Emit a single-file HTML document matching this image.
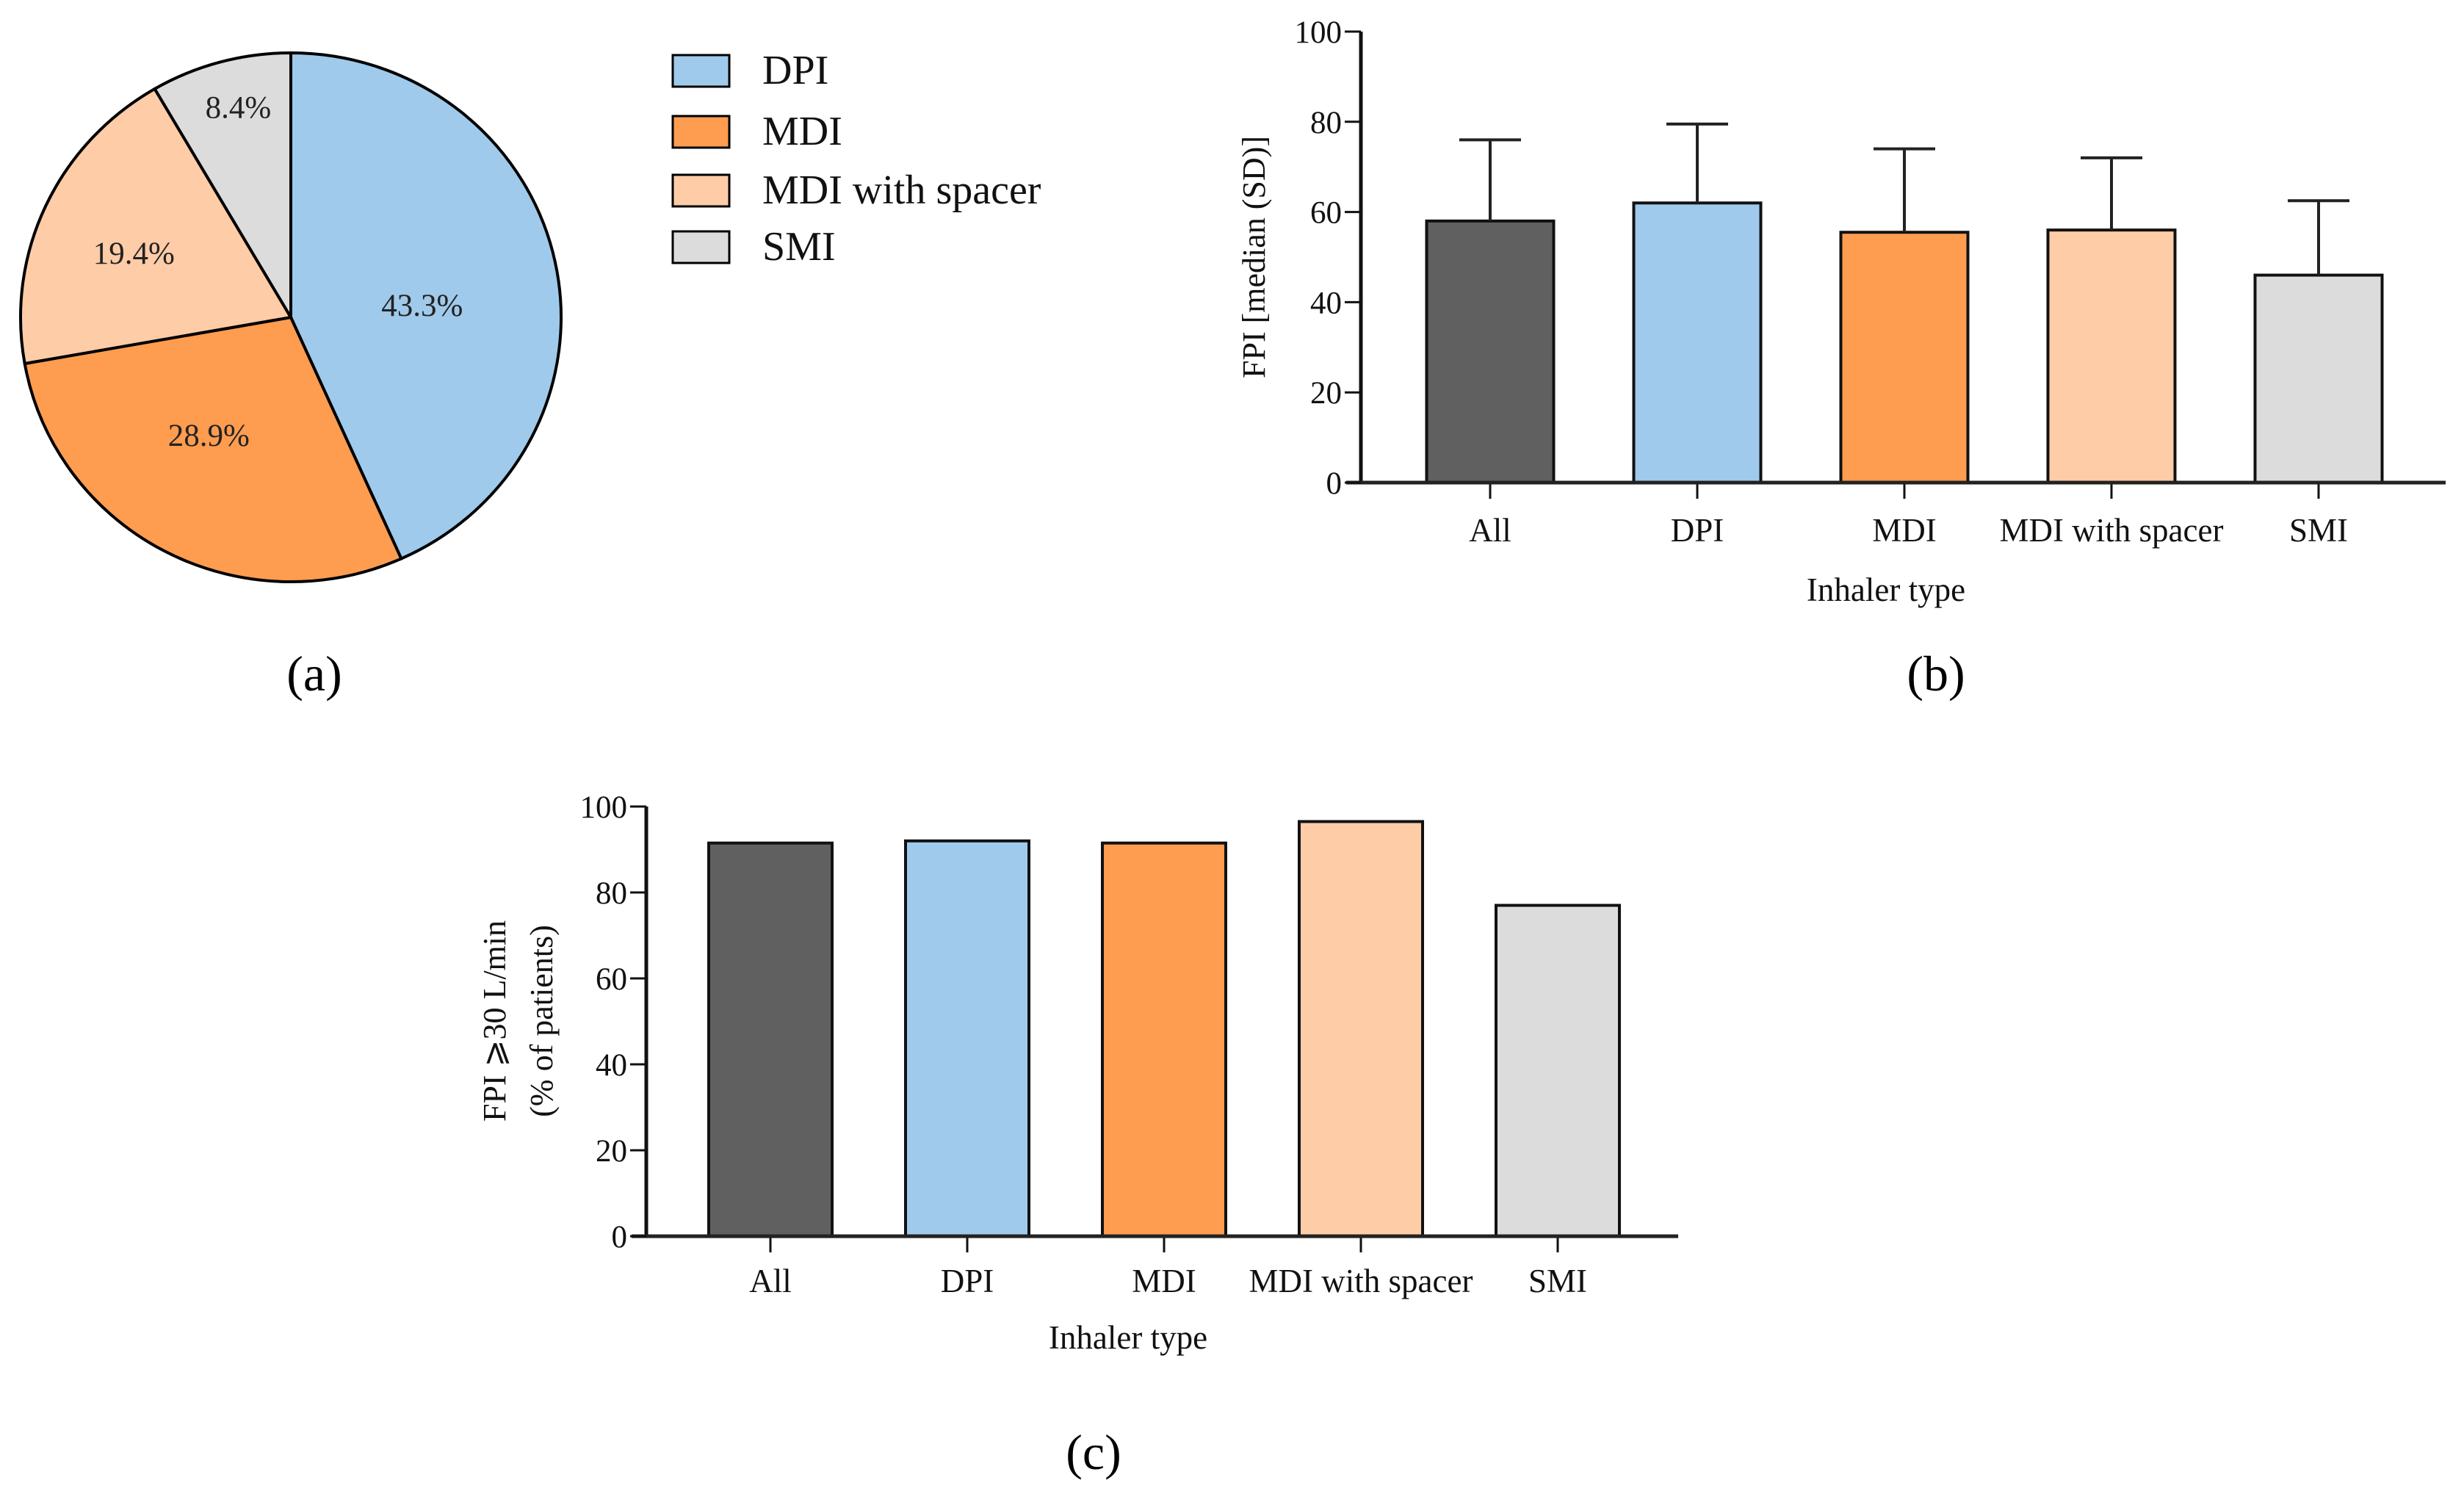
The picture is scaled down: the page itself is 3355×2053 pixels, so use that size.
<!DOCTYPE html>
<html><head><meta charset="utf-8"><style>
html,body{margin:0;padding:0;background:#fff;}
svg{display:block;font-family:"Liberation Serif",serif;}
</style></head><body>
<svg id="fig" width="3355" height="2053" viewBox="0 0 3355 2053" xmlns="http://www.w3.org/2000/svg"></svg>
<script>
const pieLabels = ["DPI","MDI","MDI with spacer","SMI"];
const pieValues = [43.3,28.9,19.4,8.4];
const pieText = ["43.3%","28.9%","19.4%","8.4%"];
const colors = ["#9fcaeb","#fe9c50","#fecca6","#dcdcdc"];
const barCats = ["All","DPI","MDI","MDI with spacer","SMI"];
const medianVals = [58,62,55.5,56,46];
const sdTop = [76,79.5,74,72,62.5];
const pctVals = [91.5,92,91.5,96.5,77];
const yTicks = [0,20,40,60,80,100];
const barColors = ["#606060","#9fcaeb","#fe9c50","#fecca6","#dcdcdc"];

const NS="http://www.w3.org/2000/svg";
const svg=document.getElementById('fig');
function mk(tag,attrs,parent){const e=document.createElementNS(NS,tag);for(const k in attrs)e.setAttribute(k,attrs[k]);(parent||svg).appendChild(e);return e;}
function txt(s,attrs,parent){const e=mk('text',attrs,parent);e.textContent=s;return e;}

// ---- Pie (a)
const pg=mk('g',{});


const cx=396,cy=432,rx=368,ry=360;
const total=pieValues.reduce((a,b)=>a+b,0);
let acc=0;
const labelR=[0.53,0.55,0.64,0.85];
const labelDX=[-12,-17,0,10];
const labelDY=[24,-14,10,10];
pieValues.forEach((v,i)=>{
  const a0=acc/total*2*Math.PI; acc+=v; const a1=acc/total*2*Math.PI;
  const x0=cx+rx*Math.sin(a0),y0=cy-ry*Math.cos(a0),x1=cx+rx*Math.sin(a1),y1=cy-ry*Math.cos(a1);
  const large=(a1-a0)>Math.PI?1:0;
  const p=mk('path',{d:`M${cx},${cy} L${x0},${y0} A${rx},${ry} 0 ${large} 1 ${x1},${y1} Z`,fill:colors[i],stroke:'#000','stroke-width':4},pg);
  
  
  const am=(a0+a1)/2;
  const t=txt(pieText[i],{x:cx+rx*labelR[i]*Math.sin(am)+labelDX[i],y:cy-ry*labelR[i]*Math.cos(am)+14+labelDY[i],'font-size':43,'text-anchor':'middle',fill:'#222'},pg);
  
  
});
// legend
pieLabels.forEach((l,i)=>{
  const y=[75,158,238,315][i];
  const r=mk('rect',{x:916,y:y,width:77,height:43,fill:colors[i],stroke:'#000','stroke-width':3});
  
  
  const t=txt(l,{x:1038,y:y+39,'font-size':56,fill:'#111'});
  
  
});
const la=txt('(a)',{x:428,y:940,'font-size':68,'text-anchor':'middle'});



// ---- Bar chart helper
function barChart(o){
  const g=mk('g',{});
  
  
  const ys=v=>o.y0-(o.y0-o.y100)*v/100;
  const xc=i=>o.x1+i*o.step;
  o.vals.forEach((v,i)=>{
    const r=mk('rect',{x:xc(i)-o.bw/2,y:ys(v),width:o.bw,height:ys(0)-ys(v),fill:barColors[i],stroke:'#111','stroke-width':4},g);
    
    
    if(o.err){
      const e=mk('path',{d:`M${xc(i)},${ys(v)} V${ys(o.err[i])} M${xc(i)-42},${ys(o.err[i])} H${xc(i)+42}`,stroke:'#222','stroke-width':4,fill:'none'},g);
      
      
    }
    const tk=mk('line',{x1:xc(i),y1:ys(0),x2:xc(i),y2:ys(0)+o.tick,stroke:'#111','stroke-width':3},g);
    
    
    const t=txt(barCats[i],{x:xc(i),y:o.labY,'font-size':45,'text-anchor':'middle',fill:'#111'},g);
    
    
  });
  const ya=mk('line',{x1:o.ax,y1:o.y100,x2:o.ax,y2:ys(0),stroke:'#111','stroke-width':5},g);
  
  
  const xa=mk('line',{x1:o.ax-20,y1:ys(0),x2:o.xend,y2:ys(0),stroke:'#222','stroke-width':5},g);
  
  
  yTicks.forEach(v=>{
    const l=mk('line',{x1:o.ax-22,y1:ys(v),x2:o.ax,y2:ys(v),stroke:'#111','stroke-width':3},g);
    
    
    const t=txt(String(v),{x:o.ax-26,y:ys(v)+15,'font-size':43,'text-anchor':'end',fill:'#111'},g);
    
    
  });
  const xt=txt('Inhaler type',{x:o.xtX,y:o.xtY,'font-size':45,'text-anchor':'middle',fill:'#111'},g);
  
  
  o.ytitle.forEach((s,k)=>{
    const x=o.ytX[k];
    const t=txt(s,{x:x,y:o.ytY,'font-size':44,'text-anchor':'middle',transform:`rotate(-90 ${x} ${o.ytY})`,fill:'#111'},g);
    
    
  });
  const pl=txt(o.panel,{x:o.plX,y:o.plY,'font-size':68,'text-anchor':'middle'},g);
  
  
}
barChart({name:'median-bar-chart',vals:medianVals,err:sdTop,ax:1853,y100:43,y0:657,x1:2029,step:282,bw:173,xend:3330,tick:22,labY:737,xtX:2568,xtY:818,ytitle:['FPI [median (SD)]'],ytX:[1722],ytY:350,panel:'(b)',plX:2636,plY:940});
barChart({name:'percent-bar-chart',vals:pctVals,err:null,ax:880,y100:1098,y0:1683,x1:1049,step:268,bw:168,xend:2285,tick:22,labY:1759,xtX:1536,xtY:1836,ytitle:['FPI \u2A7E30 L/min','(% of patients)'],ytX:[688,752],ytY:1390,panel:'(c)',plX:1489,plY:2000});
</script>
</body></html>
